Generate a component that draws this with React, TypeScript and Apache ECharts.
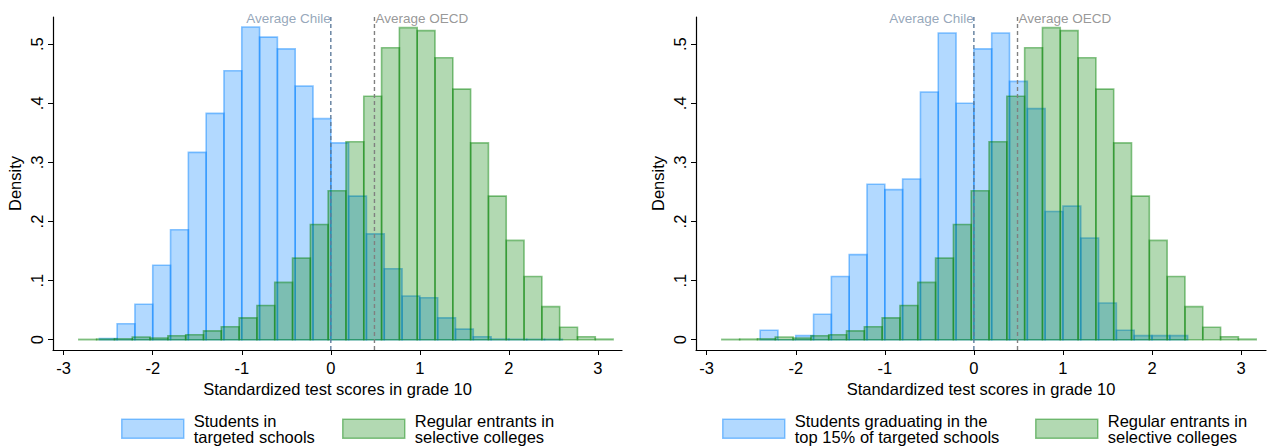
import React, { useEffect, useRef } from "react";
import * as echarts from "echarts";

// ---------- data ----------
const BIN_WIDTH = 0.2;
// Left panel: students in targeted schools (bins start at -2.6)
const BLUE_LEFT_START = -2.6;
const BLUE_LEFT = [
  0.002, 0.027, 0.06, 0.126, 0.186, 0.317, 0.383, 0.455, 0.529, 0.512, 0.492, 0.429, 0.374,
  0.333, 0.243, 0.179, 0.12, 0.074, 0.071, 0.037, 0.018, 0.005, 0.001, 0.0006, 0.0006, 0.0006,
];
// Right panel: top 15% of targeted schools (bins start at -2.4)
const BLUE_RIGHT_START = -2.4;
const BLUE_RIGHT = [
  0.016, 0, 0.007, 0.043, 0.107, 0.144, 0.263, 0.254, 0.272, 0.419, 0.519, 0.4, 0.492, 0.519,
  0.437, 0.391, 0.217, 0.226, 0.172, 0.062, 0.016, 0.007, 0.007, 0.007,
];
// Both panels: regular entrants in selective colleges (bins start at -2.83)
const GREEN_START = -2.83;
const GREEN = [
  0.0006, 0.001, 0.0015, 0.0045, 0.003, 0.0067, 0.0085, 0.015, 0.022, 0.037, 0.058, 0.097,
  0.138, 0.195, 0.252, 0.335, 0.412, 0.494, 0.528, 0.523, 0.477, 0.424, 0.333, 0.243, 0.168,
  0.107, 0.056, 0.021, 0.005, 0.001,
];
const AVG_CHILE = 0;
const AVG_OECD = 0.49;

const X_TICKS = [-3, -2, -1, 0, 1, 2, 3];
const X_TICK_LABELS = ["-3", "-2", "-1", "0", "1", "2", "3"];
const Y_TICKS = [0, 0.1, 0.2, 0.3, 0.4, 0.5];
const Y_TICK_LABELS = ["0", ".1", ".2", ".3", ".4", ".5"];

const X_TITLE = "Standardized test scores in grade 10";
const Y_TITLE = "Density";
const NAME_BLUE_LEFT = "Students in\ntargeted schools";
const NAME_BLUE_RIGHT = "Students graduating in the\ntop 15% of targeted schools";
const NAME_GREEN = "Regular entrants in\nselective colleges";
const LABEL_CHILE = "Average Chile";
const LABEL_OECD = "Average OECD";

// ---------- styles ----------
const FONT = "Liberation Sans, Arial, sans-serif";
const BLUE_FILL = "rgba(0,128,255,0.3)";
const BLUE_LINE = "rgba(0,128,255,0.45)";
const GREEN_FILL = "rgba(0,128,0,0.3)";
const GREEN_LINE = "rgba(0,128,0,0.45)";
const FS = 16.5;

function bins(start: number, heights: number[]) {
  return heights.map((h, i) => [start + i * BIN_WIDTH, start + (i + 1) * BIN_WIDTH, h]);
}

function histSeries(name: string, idx: number, data: number[][], fill: string, stroke: string) {
  return {
    type: "custom",
    name,
    xAxisIndex: idx,
    yAxisIndex: idx,
    silent: true,
    itemStyle: { color: fill, borderColor: stroke, borderWidth: 1.5 },
    encode: { x: [0, 1], y: 2 },
    data,
    renderItem: (params: any, api: any) => {
      const x0 = api.value(0);
      const x1 = api.value(1);
      const h = api.value(2);
      const p0 = api.coord([x0, h]);
      const p1 = api.coord([x1, 0]);
      return {
        type: "rect",
        shape: { x: p0[0], y: p0[1], width: p1[0] - p0[0], height: p1[1] - p0[1] },
        style: { fill, stroke, lineWidth: 1.6 },
      };
    },
  };
}

const Y_MIN = -0.0174;
const Y_MAX = 0.546;

function vline(idx: number, x: number, color: string, label: string, side: "left" | "right") {
  return [
    {
      type: "line",
      xAxisIndex: idx,
      yAxisIndex: idx,
      silent: true,
      symbol: "none",
      data: [
        [x, Y_MIN],
        [x, Y_MAX],
      ],
      lineStyle: { color, width: 1.4, type: [4, 3] },
      z: 5,
    },
    {
      type: "scatter",
      xAxisIndex: idx,
      yAxisIndex: idx,
      silent: true,
      symbolSize: 0,
      data: [[x, 0.543]],
      label: {
        show: true,
        position: side,
        distance: side === "left" ? 0 : 1,
        formatter: label,
        color: side === "left" ? "#7b90a9" : "#7d7d7d",
        fontSize: 13.5,
        fontFamily: FONT,
      },
      z: 6,
    },
  ];
}

function axes(idx: number, xmax: number) {
  const xAxis = {
    type: "value",
    gridIndex: idx,
    min: -3.12,
    max: xmax,
    name: X_TITLE,
    nameLocation: "middle",
    nameGap: 30,
    nameTextStyle: { color: "#000", fontSize: FS, fontFamily: FONT },
    axisLine: { show: true, onZero: false, lineStyle: { color: "#000", width: 1.2 } },
    axisTick: { show: true, length: 5, lineStyle: { color: "#000" }, customValues: X_TICKS },
    axisLabel: {
      color: "#000",
      fontSize: FS,
      fontFamily: FONT,
      margin: 9,
      customValues: X_TICKS,
      formatter: (v: number) => X_TICK_LABELS[X_TICKS.findIndex((t) => Math.abs(t - v) < 1e-6)] ?? "",
    },
    splitLine: { show: false },
  };
  const yAxis = {
    type: "value",
    gridIndex: idx,
    min: Y_MIN,
    max: Y_MAX,
    name: Y_TITLE,
    nameLocation: "middle",
    nameGap: 30,
    nameRotate: 90,
    nameTextStyle: { color: "#000", fontSize: FS, fontFamily: FONT },
    axisLine: { show: true, onZero: false, lineStyle: { color: "#000", width: 1.2 } },
    axisTick: { show: true, length: 5, lineStyle: { color: "#000" }, customValues: Y_TICKS },
    axisLabel: {
      color: "#000",
      fontSize: FS,
      fontFamily: FONT,
      rotate: 90,
      margin: 8,
      customValues: Y_TICKS,
      formatter: (v: number) => Y_TICK_LABELS[Y_TICKS.findIndex((t) => Math.abs(t - v) < 1e-6)] ?? "",
    },
    splitLine: { show: false },
  };
  return { xAxis, yAxis };
}

function legend(left: number, name: string, fill: string, stroke: string) {
  return {
    left,
    top: 412,
    padding: 0,
    itemWidth: 62,
    itemHeight: 19,
    itemGap: 10,
    selectedMode: false,
    icon: "rect",
    textStyle: {
      color: "#000",
      fontSize: FS,
      fontFamily: FONT,
      lineHeight: 16.5,
      padding: [0, 0, 0, 5],
    },
    data: [{ name, itemStyle: { color: fill, borderColor: stroke, borderWidth: 1.5 } }],
  };
}

export default function App() {
  const ref = useRef<HTMLDivElement>(null);
  useEffect(() => {
    if (!ref.current) return;
    const chart = echarts.init(ref.current, undefined, { renderer: "svg" });
    const a0 = axes(0, 3.27);
    const a1 = axes(1, 3.28);
    chart.setOption({
      animation: false,
      backgroundColor: "#fff",
      grid: [
        { left: 53, top: 17, width: 569, height: 333 },
        { left: 696, top: 17, width: 570, height: 333 },
      ],
      xAxis: [a0.xAxis, a1.xAxis],
      yAxis: [a0.yAxis, a1.yAxis],
      legend: [
        legend(121, NAME_BLUE_LEFT, BLUE_FILL, BLUE_LINE),
        legend(342, NAME_GREEN, GREEN_FILL, GREEN_LINE),
        legend(722, NAME_BLUE_RIGHT, BLUE_FILL, BLUE_LINE),
        legend(1035, NAME_GREEN, GREEN_FILL, GREEN_LINE),
      ],
      series: [
        histSeries(NAME_BLUE_LEFT, 0, bins(BLUE_LEFT_START, BLUE_LEFT), BLUE_FILL, BLUE_LINE),
        histSeries(NAME_GREEN, 0, bins(GREEN_START, GREEN), GREEN_FILL, GREEN_LINE),
        histSeries(NAME_BLUE_RIGHT, 1, bins(BLUE_RIGHT_START, BLUE_RIGHT), BLUE_FILL, BLUE_LINE),
        histSeries(NAME_GREEN, 1, bins(GREEN_START, GREEN), GREEN_FILL, GREEN_LINE),
        ...vline(0, AVG_CHILE, "#5f7d9c", LABEL_CHILE, "left"),
        ...vline(0, AVG_OECD, "#808080", LABEL_OECD, "right"),
        ...vline(1, AVG_CHILE, "#5f7d9c", LABEL_CHILE, "left"),
        ...vline(1, AVG_OECD, "#808080", LABEL_OECD, "right"),
      ],
    });
    return () => chart.dispose();
  }, []);
  return (
    <div
      ref={ref}
      style={{ position: "fixed", left: 0, top: 0, width: 1269, height: 446, background: "#fff" }}
    />
  );
}
